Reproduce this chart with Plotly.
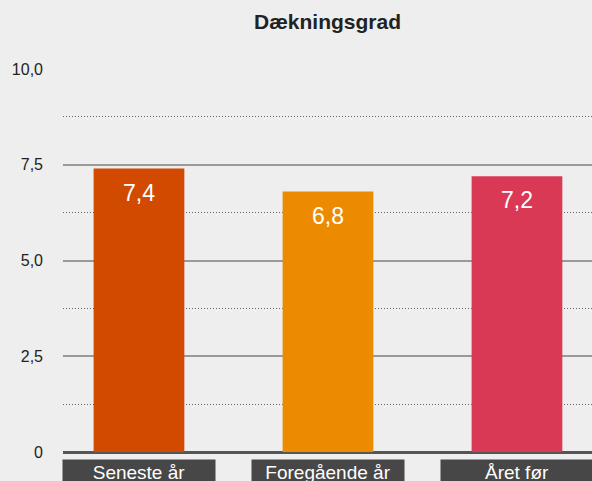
import plotly.graph_objects as go

categories = ["Seneste år", "Foregående år", "Året før"]
values = [7.4, 6.8, 7.2]
value_labels = ["7,4", "6,8", "7,2"]
colors = ["#D14A00", "#EC8B00", "#DA3956"]
tick_vals = [0, 2.5, 5, 7.5, 10]
tick_text = ["0", "2,5", "5,0", "7,5", "10,0"]
minor_vals = [1.25, 3.75, 6.25, 8.75]

FONT = "Liberation Sans, Arial, Helvetica, sans-serif"
xs = list(range(len(categories)))

fig = go.Figure()
fig.add_trace(go.Bar(
    x=xs, y=values, marker=dict(color=colors, line=dict(width=0)),
    width=0.48, hoverinfo="skip", showlegend=False,
))

for i, (v, lab) in enumerate(zip(values, value_labels)):
    fig.add_annotation(x=i, y=v, xref="x", yref="y", text=lab, showarrow=False,
                       yanchor="top", yshift=-9,
                       font=dict(family=FONT, size=23, color="white"))

for i, c in enumerate(categories):
    fig.add_annotation(x=i, y=0, xref="x", yref="paper", text=c, showarrow=False,
                       yanchor="top", yshift=-7, width=150, height=22,
                       bgcolor="#474747", borderpad=1, valign="middle",
                       font=dict(family=FONT, size=19, color="white"))

fig.update_layout(
    width=592, height=481,
    margin=dict(l=63, r=0, t=69, b=29),
    paper_bgcolor="#EEEEEE", plot_bgcolor="#EEEEEE",
    font=dict(family=FONT, size=16, color="#222222"),
    title=dict(text="<b>Dækningsgrad</b>", x=0.5, xref="paper", xanchor="center",
               y=1 - 22 / 481, yref="container", yanchor="middle",
               font=dict(family=FONT, size=21, color="#222222")),
    bargap=0.52,
)
fig.update_xaxes(range=[-0.402, 2.397], showticklabels=False, showgrid=False,
                 zeroline=False, showline=False, fixedrange=True)
fig.update_yaxes(range=[0, 10], tickmode="array", tickvals=tick_vals, ticktext=tick_text,
                 showgrid=True, gridcolor="#999999", gridwidth=1.5,
                 zeroline=True, zerolinecolor="#555555", zerolinewidth=3,
                 showline=False, ticks="", ticklabelstandoff=19,
                 tickfont=dict(family=FONT, size=16, color="#222222"),
                 minor=dict(tickmode="array", tickvals=minor_vals, showgrid=True,
                            gridcolor="#666666", griddash="1px,2px", gridwidth=1),
                 fixedrange=True)

fig.write_html(
    "out.html",
    config={"displayModeBar": False},
    post_script="document.body.style.margin='0';document.body.style.overflow='hidden';",
)
